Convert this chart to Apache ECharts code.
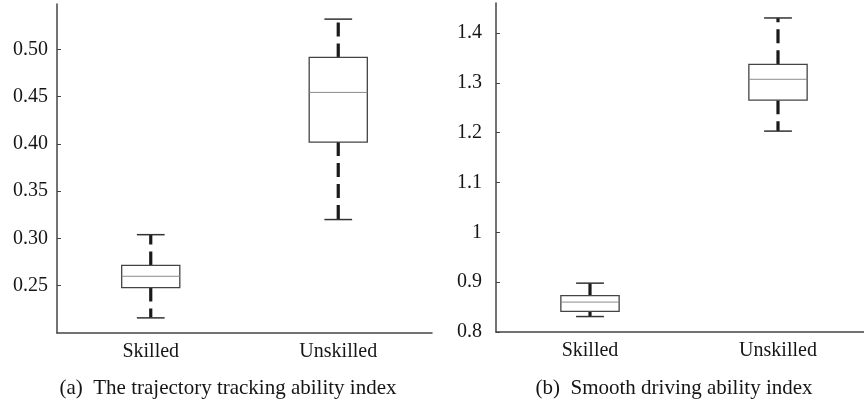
<!DOCTYPE html>
<html><head><meta charset="utf-8">
<script src="https://cdn.jsdelivr.net/npm/echarts@6/dist/echarts.min.js"></script>
<style>html,body{margin:0;padding:0;background:#fff}#c{width:864px;height:404px}</style>
</head><body><div id="c"></div>
<script>
var categories = ['Skilled', 'Unskilled'];
// [low whisker, Q1, median, Q3, high whisker]
var trackingSkilled = [0.216, 0.248, 0.260, 0.2715, 0.304];
var trackingUnskilled = [0.320, 0.402, 0.4545, 0.4915, 0.532];
var smoothSkilled = [0.831, 0.8415, 0.860, 0.873, 0.898];
var smoothUnskilled = [1.203, 1.265, 1.307, 1.337, 1.430];
var captionA = '(a)  The trajectory tracking ability index';
var captionB = '(b)  Smooth driving ability index';

var FONT = 'Liberation Serif';

function renderBox(params, api) {
  var x = api.value(0);
  var lo = api.coord([x, api.value(1)]);
  var q1 = api.coord([x, api.value(2)]);
  var md = api.coord([x, api.value(3)]);
  var q3 = api.coord([x, api.value(4)]);
  var hi = api.coord([x, api.value(5)]);
  var band = api.size([1, 0])[0];
  var bw = band * 0.31;
  var cw = band * 0.148;
  var cx = lo[0];
  var dash = {stroke: '#1a1a1a', lineWidth: 3.2, lineDash: [14, 7]};
  return {
    type: 'group',
    children: [
      {type: 'line', shape: {x1: cx, y1: q3[1], x2: cx, y2: hi[1]}, style: dash},
      {type: 'line', shape: {x1: cx, y1: q1[1], x2: cx, y2: lo[1]}, style: dash},
      {type: 'line', shape: {x1: cx - cw / 2, y1: hi[1], x2: cx + cw / 2, y2: hi[1]}, style: {stroke: '#333', lineWidth: 1.5}},
      {type: 'line', shape: {x1: cx - cw / 2, y1: lo[1], x2: cx + cw / 2, y2: lo[1]}, style: {stroke: '#333', lineWidth: 1.5}},
      {type: 'rect', shape: {x: cx - bw / 2, y: q3[1], width: bw, height: q1[1] - q3[1]}, style: {fill: '#fff', stroke: '#444', lineWidth: 1.3}},
      {type: 'line', shape: {x1: cx - bw / 2, y1: md[1], x2: cx + bw / 2, y2: md[1]}, style: {stroke: '#8a8a8a', lineWidth: 1}}
    ]
  };
}

function toData(a, b) {
  return [[0].concat(a), [1].concat(b)];
}

var axisLine = {show: true, lineStyle: {color: '#444', width: 1.5}};
var TXT = '#151515';

var chart = echarts.init(document.getElementById('c'), null, {renderer: 'canvas'});
chart.setOption({
  animation: false,
  backgroundColor: '#fff',
  title: [
    {text: captionA, left: 223, top: 373, textAlign: 'center',
     textStyle: {fontFamily: FONT, fontSize: 21, fontWeight: 'normal', color: TXT}},
    {text: captionB, left: 669, top: 373, textAlign: 'center',
     textStyle: {fontFamily: FONT, fontSize: 21, fontWeight: 'normal', color: TXT}}
  ],
  grid: [
    {left: 57, top: 4, width: 375, height: 329, outerBoundsMode: 'none', containLabel: false},
    {left: 496, top: 3, width: 376, height: 329, outerBoundsMode: 'none', containLabel: false}
  ],
  xAxis: [0, 1].map(function (i) {
    return {
      type: 'category', gridIndex: i, data: categories, boundaryGap: true,
      axisLine: axisLine, axisTick: {show: false}, splitLine: {show: false},
      axisLabel: {fontFamily: FONT, fontSize: 20, color: TXT, margin: 9}
    };
  }),
  yAxis: [
    {type: 'value', gridIndex: 0, min: 0.2, max: 0.548, interval: 0.05,
     axisLine: axisLine, splitLine: {show: false},
     axisTick: {show: true, inside: true, length: 4, lineStyle: {color: '#444'}},
     axisLabel: {fontFamily: FONT, fontSize: 20, color: TXT, margin: 9, showMinLabel: false, showMaxLabel: false,
       formatter: function (v) { return v.toFixed(2); }}},
    {type: 'value', gridIndex: 1, min: 0.8, max: 1.46, interval: 0.1,
     axisLine: axisLine, splitLine: {show: false},
     axisTick: {show: true, inside: true, length: 4, lineStyle: {color: '#444'}},
     axisLabel: {fontFamily: FONT, fontSize: 20, color: TXT, margin: 14, showMaxLabel: false,
       formatter: function (v) { var s = (Math.round(v * 10) / 10).toString(); return s; }}}
  ],
  series: [
    {type: 'custom', xAxisIndex: 0, yAxisIndex: 0, renderItem: renderBox,
     encode: {x: 0, y: [1, 2, 3, 4, 5]}, data: toData(trackingSkilled, trackingUnskilled), clip: false},
    {type: 'custom', xAxisIndex: 1, yAxisIndex: 1, renderItem: renderBox,
     encode: {x: 0, y: [1, 2, 3, 4, 5]}, data: toData(smoothSkilled, smoothUnskilled), clip: false}
  ]
});
</script></body></html>
